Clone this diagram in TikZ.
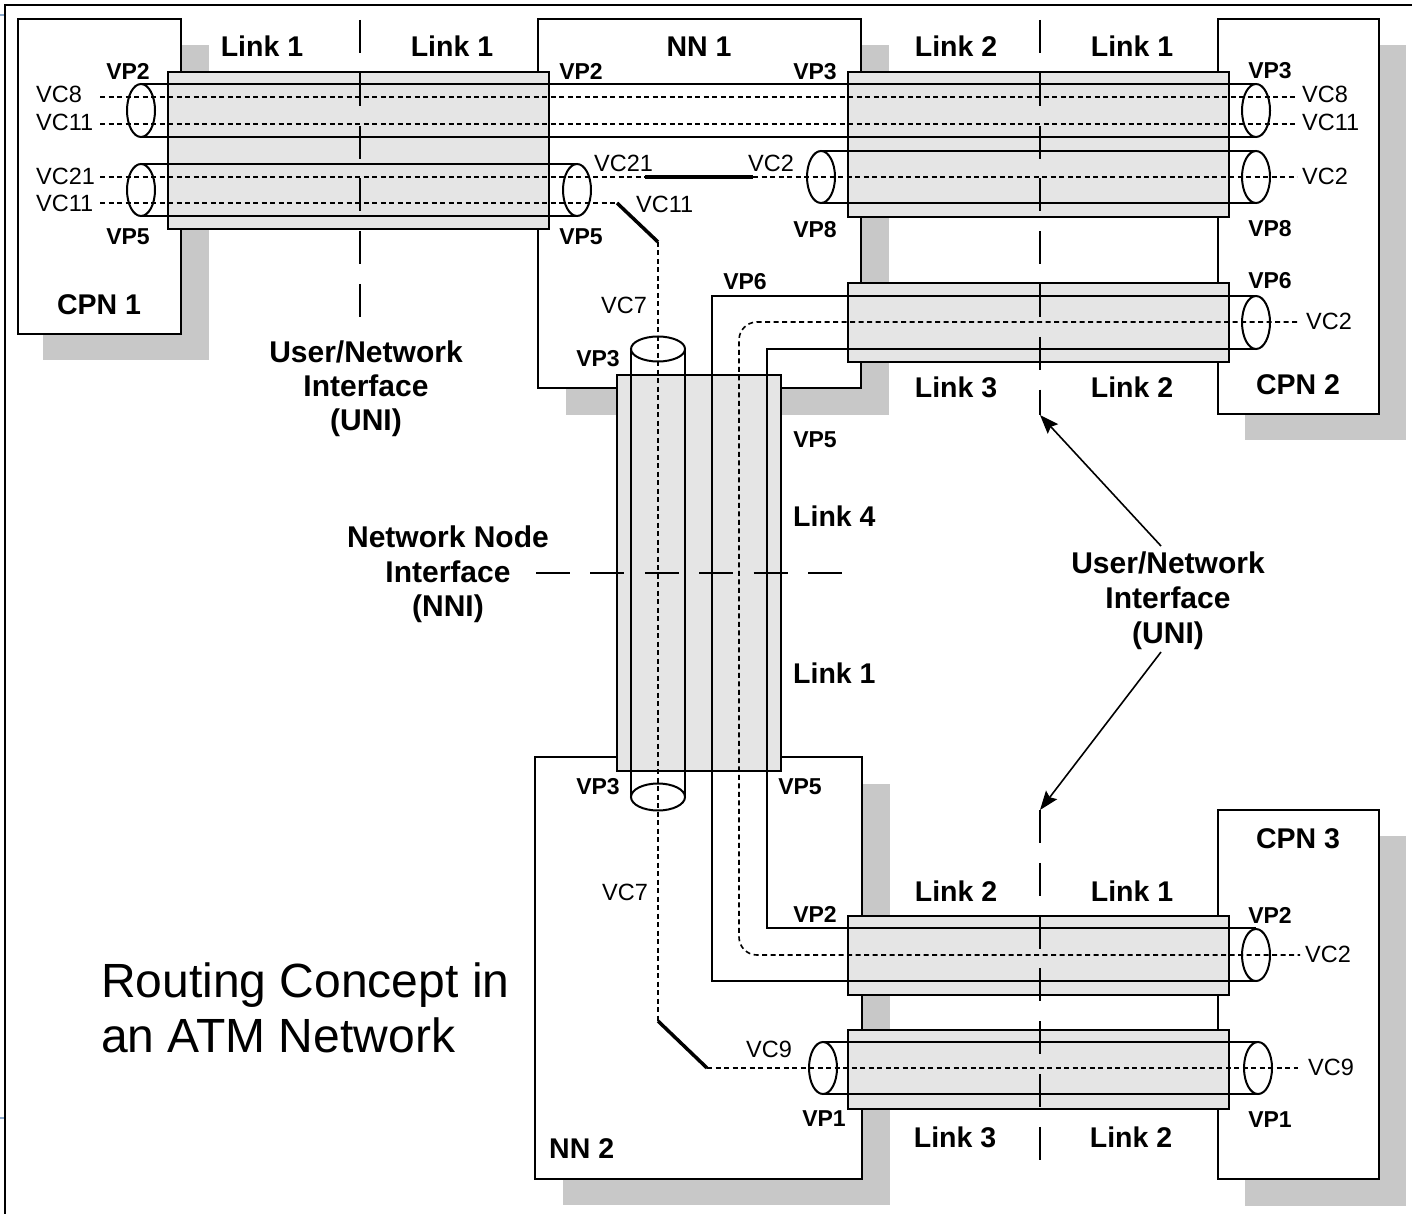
\documentclass[tikz,border=0pt]{standalone}
\usepackage{fontspec}
\setmainfont{Liberation Sans}
\usetikzlibrary{arrows.meta}
\definecolor{shadowgray}{RGB}{200,200,200}
\definecolor{bundlegray}{RGB}{229,229,229}
\definecolor{tickblue}{RGB}{140,170,205}
\begin{document}
\begin{tikzpicture}[x=1pt,y=-1pt,
  shadowbox/.style={fill=shadowgray,draw=none},
  nodebox/.style={draw,fill=white,line width=2pt},
  bundle/.style={draw,fill=bundlegray,line width=2pt},
  tube/.style={line width=2pt},
  vcline/.style={line width=1.6pt,dash pattern=on 5pt off 3.5pt},
  swline/.style={line width=3.5pt},
  divider/.style={line width=2pt,dash pattern=on 33pt off 19.8pt},
  biglab/.style={inner sep=0pt,anchor=base,font=\bfseries\fontsize{28.5}{34}\selectfont},
  iflab/.style={inner sep=0pt,anchor=base,font=\bfseries\fontsize{30}{35}\selectfont},
  vplab/.style={inner sep=0pt,anchor=base,font=\bfseries\fontsize{23}{27}\selectfont},
  vclab/.style={inner sep=0pt,anchor=base west,font=\fontsize{23.5}{28}\selectfont},
  titlelab/.style={inner sep=0pt,anchor=base west,font=\fontsize{48}{55}\selectfont},
  uniarrow/.style={line width=1.6pt,-{Stealth[length=19pt,width=14pt,inset=3pt]}}
]
\useasboundingbox (0,0) rectangle (1412,1214);
% frame
\draw[line width=2.5pt] (5,1214) -- (5,5) -- (1412,5);
\draw[tickblue,line width=1.5pt] (0,15) -- (4,15);
\draw[tickblue,line width=1.5pt] (0,1118) -- (4,1118);
% shadows
\fill[shadowgray] (43,45) rectangle (209,360);
\fill[shadowgray] (566,45) rectangle (889,415);
\fill[shadowgray] (1245,45) rectangle (1406,440);
\fill[shadowgray] (563,784) rectangle (890,1205);
\fill[shadowgray] (1245,836) rectangle (1406,1206);
% boxes
\draw[nodebox] (18,19) rectangle (181,334);
\draw[nodebox] (538,19) rectangle (861,388);
\draw[nodebox] (1218,19) rectangle (1379,414);
\draw[nodebox] (535,757) rectangle (862,1179);
\draw[nodebox] (1218,810) rectangle (1379,1179);
% bundles
\draw[bundle] (168,72) rectangle (549,229);
\draw[bundle] (848,72) rectangle (1229,217);
\draw[bundle] (848,283) rectangle (1229,362);
\draw[bundle] (617,375) rectangle (781,771);
\draw[bundle] (848,916) rectangle (1229,995);
\draw[bundle] (848,1030) rectangle (1229,1109);
% VP tubes
\draw[tube] (141,84) -- (1256,84);
\draw[tube] (141,137) -- (1256,137);
\draw[tube] (141,110.5) ellipse [x radius=14pt,y radius=26.5pt];
\draw[tube] (1256,110.5) ellipse [x radius=14pt,y radius=26.5pt];
\draw[tube] (141,164) -- (577,164);
\draw[tube] (141,216) -- (577,216);
\draw[tube] (141,190) ellipse [x radius=14pt,y radius=26pt];
\draw[tube] (577,190) ellipse [x radius=14pt,y radius=26pt];
\draw[tube] (821,151) -- (1256,151);
\draw[tube] (821,203) -- (1256,203);
\draw[tube] (821,177) ellipse [x radius=14pt,y radius=26pt];
\draw[tube] (1256,177) ellipse [x radius=14pt,y radius=26pt];
\draw[tube] (1256,296) -- (712,296) -- (712,981) -- (1256,981);
\draw[tube] (1256,349) -- (767,349) -- (767,928) -- (1256,928);
\draw[tube] (1256,322.5) ellipse [x radius=14pt,y radius=26.5pt];
\draw[tube] (1256,955) ellipse [x radius=14pt,y radius=26pt];
\draw[tube] (631,349) -- (631,797);
\draw[tube] (685,349) -- (685,797);
\draw[tube] (658,349) ellipse [x radius=27pt,y radius=12.5pt];
\draw[tube] (658,797) ellipse [x radius=27pt,y radius=13.5pt];
\draw[tube] (823,1042) -- (1258,1042);
\draw[tube] (823,1094) -- (1258,1094);
\draw[tube] (823,1068) ellipse [x radius=14pt,y radius=26pt];
\draw[tube] (1258,1068) ellipse [x radius=14pt,y radius=26pt];
% VC lines
\draw[vcline] (100,97) -- (1297,97);
\draw[vcline] (100,124) -- (1297,124);
\draw[vcline] (100,177) -- (645,177);
\draw[swline] (645,177) -- (753,177);
\draw[vcline] (753,177) -- (1297,177);
\draw[vcline] (100,203) -- (617,203);
\draw[swline] (617,203) -- (658,242);
\draw[vcline] (658,242) -- (658,1021);
\draw[swline] (658,1021) -- (707,1068);
\draw[vcline] (707,1068) -- (1298,1068);
\draw[vcline,rounded corners=18pt] (1297,322) -- (739,322) -- (739,955) -- (1300,955);
% interface dividers
\draw[divider] (360,20) -- (360,318);
\coordinate (uniTop) at (1040,415);
\coordinate (uniBot) at (1040,810);
\draw[divider] (1040,20) -- (uniTop);
\draw[divider] (uniBot) -- (1040,1160);
\draw[line width=2pt,dash pattern=on 34pt off 20.4pt] (536,573) -- (842,573);
% big labels
\node[biglab] (lk1a) at (262,57) {Link 1};
\node[biglab] (lk1b) at (452,57) {Link 1};
\node[biglab] (nn1) at (699,57) {NN 1};
\node[biglab] (lk2a) at (956,57) {Link 2};
\node[biglab] (lk1c) at (1132,57) {Link 1};
\node[biglab] (cpn1) at (99,314) {CPN 1};
\node[biglab] (lk3a) at (956,397) {Link 3};
\node[biglab] (lk2b) at (1132,397) {Link 2};
\node[biglab] (cpn2) at (1298,394) {CPN 2};
\node[biglab,anchor=base west] (lk4) at (793,526) {Link 4};
\node[biglab,anchor=base west] (lk1d) at (793,683) {Link 1};
\node[biglab] (lk2c) at (956,901) {Link 2};
\node[biglab] (lk1e) at (1132,901) {Link 1};
\node[biglab] (cpn3) at (1298,848) {CPN 3};
\node[biglab] (lk3b) at (955,1147) {Link 3};
\node[biglab] (lk2d) at (1131,1147) {Link 2};
\node[biglab,anchor=base west] (nn2) at (549,1158) {NN 2};
\node[iflab] (uniL1) at (366,362) {User/Network};
\node[iflab] (uniL2) at (366,396) {Interface};
\node[iflab] (uniL3) at (366,430) {(UNI)};
\node[iflab] (nni1) at (448,547) {Network Node};
\node[iflab] (nni2) at (448,582) {Interface};
\node[iflab] (nni3) at (448,616) {(NNI)};
\node[iflab] (uniR1) at (1168,573) {User/Network};
\node[iflab] (uniR2) at (1168,608) {Interface};
\node[iflab] (uniR3) at (1168,643) {(UNI)};
% VP labels
\node[vplab] (vpA) at (128,80) {VP2};
\node[vplab] (vpB) at (128,245) {VP5};
\node[vplab] (vpC) at (581,80) {VP2};
\node[vplab] (vpD) at (581,245) {VP5};
\node[vplab] (vpE) at (815,80) {VP3};
\node[vplab] (vpF) at (815,238) {VP8};
\node[vplab] (vpG) at (745,290) {VP6};
\node[vplab] (vpH) at (1270,79) {VP3};
\node[vplab] (vpI) at (1270,237) {VP8};
\node[vplab] (vpJ) at (1270,289) {VP6};
\node[vplab] (vpK) at (598,366) {VP3};
\node[vplab] (vpL) at (815,447) {VP5};
\node[vplab] (vpM) at (598,794) {VP3};
\node[vplab] (vpN) at (800,794) {VP5};
\node[vplab] (vpO) at (815,922) {VP2};
\node[vplab] (vpP) at (824,1126) {VP1};
\node[vplab] (vpQ) at (1270,923) {VP2};
\node[vplab] (vpR) at (1270,1127) {VP1};
% VC labels
\node[vclab] (vc8L) at (36,103) {VC8};
\node[vclab] (vc11L) at (36,131) {VC11};
\node[vclab] (vc21L) at (36,185) {VC21};
\node[vclab] (vc11Lb) at (36,212) {VC11};
\node[vclab] (vc21M) at (594,172) {VC21};
\node[vclab] (vc2M) at (748,172) {VC2};
\node[vclab] (vc11M) at (636,213) {VC11};
\node[vclab] (vc7a) at (601,313) {VC7};
\node[vclab] (vc7b) at (602,900) {VC7};
\node[vclab] (vc9M) at (746,1057) {VC9};
\node[vclab] (vc8R) at (1302,103) {VC8};
\node[vclab] (vc11R) at (1302,131) {VC11};
\node[vclab] (vc2R) at (1302,185) {VC2};
\node[vclab] (vc2Rb) at (1306,329) {VC2};
\node[vclab] (vc2Rc) at (1305,962) {VC2};
\node[vclab] (vc9R) at (1308,1075) {VC9};
% title
\node[titlelab] (title1) at (101,997) {Routing Concept in};
\node[titlelab] (title2) at (101,1052) {an ATM Network};
% arrows
\coordinate (arrUp) at (1161,546);
\coordinate (arrDn) at (1161,652);
\draw[uniarrow] (arrUp) -- (uniTop);
\draw[uniarrow] (arrDn) -- (uniBot);
\end{tikzpicture}
\end{document}
